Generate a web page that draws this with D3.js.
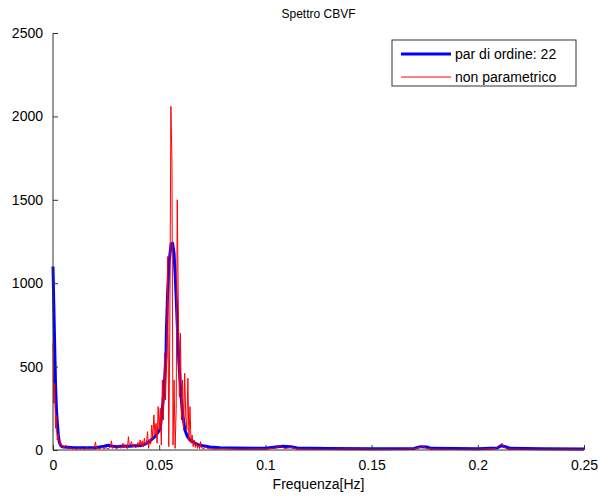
<!DOCTYPE html>
<html>
<head>
<meta charset="utf-8">
<script src="https://cdn.jsdelivr.net/npm/d3@7"></script>
<style>
  body { margin: 0; background: #fff; }
  text { font-family: "Liberation Sans", Arial, sans-serif; }
</style>
</head>
<body>
<svg id="chart"></svg>
<script>
// x ticks, y ticks
var xTicks = [0, 0.05, 0.1, 0.15, 0.2, 0.25]
var yTicks = [0, 500, 1000, 1500, 2000, 2500]

// parametric (AR order 22) spectrum: frequency [Hz] and power
var arFreq = [0, 0.0004, 0.0008, 0.0012, 0.0016, 0.002, 0.0025, 0.003, 0.0035, 0.004, 0.005,
  0.010, 0.015, 0.020, 0.024, 0.026, 0.028, 0.030, 0.033, 0.036, 0.038,
  0.0410, 0.0433, 0.0457, 0.0480, 0.0494, 0.0504, 0.0513, 0.0520, 0.0527, 0.0532, 0.0534,
  0.0539, 0.0546, 0.0556, 0.0563, 0.0570, 0.0577, 0.0581, 0.0586, 0.0593, 0.0603, 0.0610,
  0.0621, 0.0633, 0.0645, 0.0669, 0.0692, 0.0739, 0.0786,
  0.085, 0.095, 0.100, 0.105, 0.108, 0.112, 0.115, 0.130, 0.150, 0.170, 0.173, 0.176, 0.178,
  0.200, 0.209, 0.211, 0.213, 0.215, 0.230, 0.250]
var arPower = [1100, 860, 620, 390, 250, 170, 90, 45, 30, 22, 18,
  14, 13, 14, 22, 28, 22, 20, 24, 22, 25,
  25, 35, 55, 80, 105, 125, 220, 318, 450, 560, 720,
  917, 1120, 1235, 1240, 1180, 1000, 880, 720, 520, 318, 220,
  120, 80, 60, 40, 28, 18, 14,
  12, 10, 10, 18, 22, 20, 12, 9, 8, 9, 20, 18, 10,
  8, 12, 25, 20, 10, 7, 6]

// non parametric (periodogram) spectrum
var npFreq = [0, 0.0004, 0.0008, 0.0012, 0.0016, 0.002, 0.0025, 0.003, 0.0035, 0.004, 0.0045,
  0.005, 0.006, 0.007, 0.008, 0.009, 0.010, 0.011, 0.012, 0.013, 0.014, 0.015, 0.016, 0.017,
  0.018, 0.019, 0.0195, 0.020, 0.0205, 0.021, 0.022, 0.023, 0.024, 0.025, 0.026, 0.027, 0.0275,
  0.028, 0.029, 0.030, 0.031, 0.032, 0.033, 0.0335, 0.034, 0.035, 0.0355, 0.036, 0.037, 0.0375,
  0.038, 0.039, 0.040, 0.0405, 0.041, 0.0415, 0.042, 0.0425, 0.043, 0.0435,
  0.0440, 0.0445, 0.0450, 0.0455, 0.0460, 0.0465, 0.0470, 0.0475, 0.0480, 0.0485, 0.0490,
  0.0495, 0.0500, 0.0505, 0.0510, 0.0515, 0.0520, 0.0525, 0.0530, 0.0535, 0.0540, 0.0545,
  0.0550, 0.0555, 0.0560, 0.0565, 0.0570, 0.0575, 0.0580, 0.0585, 0.0590, 0.0595, 0.0600,
  0.0605, 0.0610, 0.0615, 0.0620, 0.0625, 0.0630, 0.0635, 0.0640, 0.0645, 0.0650, 0.0655,
  0.0660, 0.0665, 0.0670, 0.0675, 0.0680, 0.0685, 0.0690, 0.0695, 0.0700,
  0.071, 0.072, 0.073, 0.074, 0.075, 0.080, 0.085, 0.090, 0.095, 0.100, 0.105, 0.107, 0.109,
  0.112, 0.115, 0.120, 0.130, 0.140, 0.150, 0.160, 0.170, 0.174, 0.176, 0.180, 0.190, 0.200,
  0.208, 0.2115, 0.2125, 0.214, 0.220, 0.230, 0.240, 0.250]
var npPower = [640, 280, 400, 130, 210, 60, 95, 30, 50, 18, 28,
  12, 30, 8, 14, 6, 10, 5, 12, 7, 9, 4, 14, 6,
  10, 5, 20, 48, 8, 12, 5, 16, 8, 14, 6, 20, 55,
  10, 18, 6, 24, 10, 40, 12, 28, 8, 80, 22, 50, 15,
  30, 12, 45, 20, 60, 25, 55, 18, 70, 30,
  40, 110, 10, 60, 35, 150, 70, 210, 90, 160, 40,
  260, 120, 250, 30, 420, 180, 580, 300, 560, 1160, 20,
  700, 2060, 1740, 30, 420, 10, 250, 1500, 860, 320, 700,
  180, 420, 120, 460, 200, 120, 430, 60, 260, 40, 90,
  20, 60, 15, 45, 10, 30, 8, 50, 12,
  8, 20, 6, 10, 5, 8, 6, 5, 7, 6, 12, 25, 8,
  15, 6, 5, 4, 6, 5, 4, 6, 20, 8, 5, 4, 5,
  8, 40, 15, 6, 5, 4, 5, 4]

var width = 599
var height = 497
var margin = { top: 33, right: 15, bottom: 47, left: 53 }
var bodyWidth = width - margin.left - margin.right
var bodyHeight = height - margin.top - margin.bottom

var svg = d3.select("#chart").attr("width", width).attr("height", height)

var xScale = d3.scaleLinear().domain([0, 0.25]).range([0, bodyWidth])
var yScale = d3.scaleLinear().domain([0, 2500]).range([bodyHeight, 0])

var body = svg.append("g")
  .attr("transform", `translate(${margin.left},${margin.top})`)

var line = d3.line().x(d => xScale(d[0])).y(d => yScale(d[1]))

body.append("path")
  .datum(d3.zip(arFreq, arPower))
  .attr("d", line)
  .attr("fill", "none")
  .attr("stroke", "#0000ff")
  .attr("stroke-width", 3)
  .attr("stroke-linejoin", "round")

body.append("path")
  .datum(d3.zip(npFreq, npPower))
  .attr("d", line)
  .attr("fill", "none")
  .attr("stroke", "#ff0000")
  .attr("stroke-width", 1)

// axes, ticks point inwards like matlab
var xAxis = d3.axisBottom(xScale).tickValues(xTicks).tickSize(-5).tickPadding(10)
  .tickFormat(d => d === 0 ? "0" : String(d))
var yAxis = d3.axisLeft(yScale).tickValues(yTicks).tickSize(-5).tickPadding(10)
  .tickFormat(d3.format("d"))

var gx = body.append("g").attr("transform", `translate(0,${bodyHeight})`).call(xAxis)
var gy = body.append("g").call(yAxis)

;[gx, gy].forEach(g => {
  g.select(".domain").attr("stroke", "#333")
  g.selectAll(".tick line").attr("stroke", "#333")
  g.selectAll("text").attr("font-size", 14).attr("fill", "#000")
    .attr("font-family", "Liberation Sans, Arial, sans-serif")
})
gx.select(".domain").attr("d", `M0,0H${bodyWidth}`)
gy.select(".domain").attr("d", `M0,${bodyHeight}V0`)

svg.append("text")
  .attr("x", margin.left + bodyWidth / 2).attr("y", 18)
  .attr("text-anchor", "middle").attr("font-size", 12)
  .text("Spettro CBVF")

svg.append("text")
  .attr("x", margin.left + bodyWidth / 2).attr("y", 489)
  .attr("text-anchor", "middle").attr("font-size", 14)
  .text("Frequenza[Hz]")

// legend
var legend = svg.append("g").attr("transform", "translate(392,40)")
legend.append("rect")
  .attr("width", 184).attr("height", 46)
  .attr("fill", "#fff").attr("stroke", "#333")

var legendItems = [
  { label: "par di ordine: 22", color: "#0000ff", w: 3 },
  { label: "non parametrico", color: "#ff0000", w: 1 }
]
legendItems.forEach((item, i) => {
  var y = 14 + i * 23
  legend.append("line")
    .attr("x1", 9).attr("x2", 59).attr("y1", y).attr("y2", y)
    .attr("stroke", item.color).attr("stroke-width", item.w)
  legend.append("text")
    .attr("x", 63).attr("y", y + 5)
    .attr("font-size", 14)
    .text(item.label)
})
</script>
</body>
</html>
